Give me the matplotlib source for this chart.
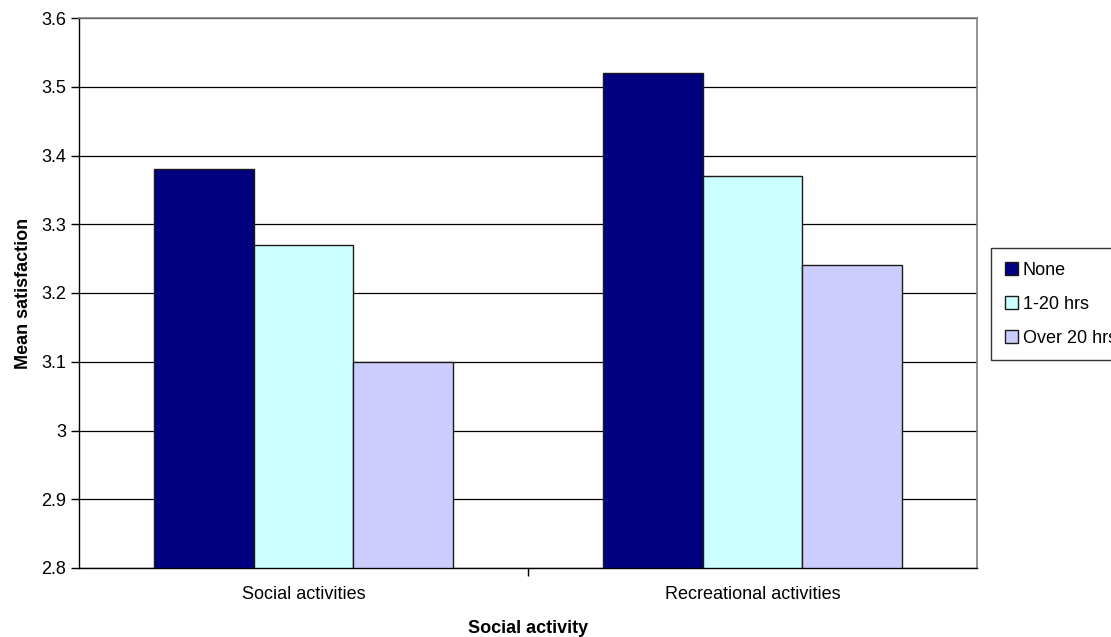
import matplotlib.pyplot as plt
import numpy as np

plt.rcParams['font.family'] = ['Liberation Sans', 'DejaVu Sans']

categories = ['Social activities', 'Recreational activities']
series = ['None', '1-20 hrs', 'Over 20 hrs']
none_vals = [3.38, 3.52]
mid_vals = [3.27, 3.37]
over_vals = [3.10, 3.24]
colors = ['#000080', '#CCFFFF', '#CCCCFF']
yticks = [2.8, 2.9, 3.0, 3.1, 3.2, 3.3, 3.4, 3.5, 3.6]
ytick_labels = ['2.8', '2.9', '3', '3.1', '3.2', '3.3', '3.4', '3.5', '3.6']

fs = 13

fig = plt.figure(figsize=(11.11, 6.37), dpi=100)
ax = fig.add_axes([79 / 1111, 1 - 568 / 637, (977 - 79) / 1111, (568 - 18) / 637])

x = np.arange(len(categories))
w = 0.2227
base = 2.8
for i, (vals, c) in enumerate(zip([none_vals, mid_vals, over_vals], colors)):
    ax.bar(x + (i - 1) * w, np.array(vals) - base, bottom=base, width=w,
           color=c, edgecolor='#1a1a1a', linewidth=1.0, label=series[i], zorder=3)

ax.set_xlim(-0.5, 1.5)
ax.set_ylim(2.8, 3.6)
ax.set_yticks(yticks)
ax.set_yticklabels(ytick_labels, fontsize=fs)
ax.yaxis.grid(True, color='black', linewidth=0.9, zorder=0)
ax.set_xticks(x)
ax.set_xticklabels(categories, fontsize=fs)
ax.tick_params(axis='x', length=0, pad=13)
ax.set_xticks([0.5], minor=True)
ax.tick_params(axis='x', which='minor', length=6, width=1, direction='out', color='black')
ax.tick_params(axis='y', length=6, width=1, direction='out', pad=3)

for s in ['top', 'right']:
    ax.spines[s].set_color('#808080')
    ax.spines[s].set_linewidth(1.2)
for s in ['left', 'bottom']:
    ax.spines[s].set_color('black')
    ax.spines[s].set_linewidth(1.0)

ax.set_ylabel('Mean satisfaction', fontsize=fs, fontweight='bold', labelpad=7)
ax.set_xlabel('Social activity', fontsize=fs, fontweight='bold', labelpad=12)

leg = fig.legend(loc='upper left', bbox_to_anchor=(991 / 1111, 1 - 248 / 637),
                 fontsize=fs, frameon=True, fancybox=False, edgecolor='black',
                 handlelength=0.75, handleheight=0.75, handletextpad=0.25,
                 labelspacing=0.95, borderpad=0.75, borderaxespad=0)
leg.get_frame().set_linewidth(1.0)

fig.savefig('out.png', dpi=100)
